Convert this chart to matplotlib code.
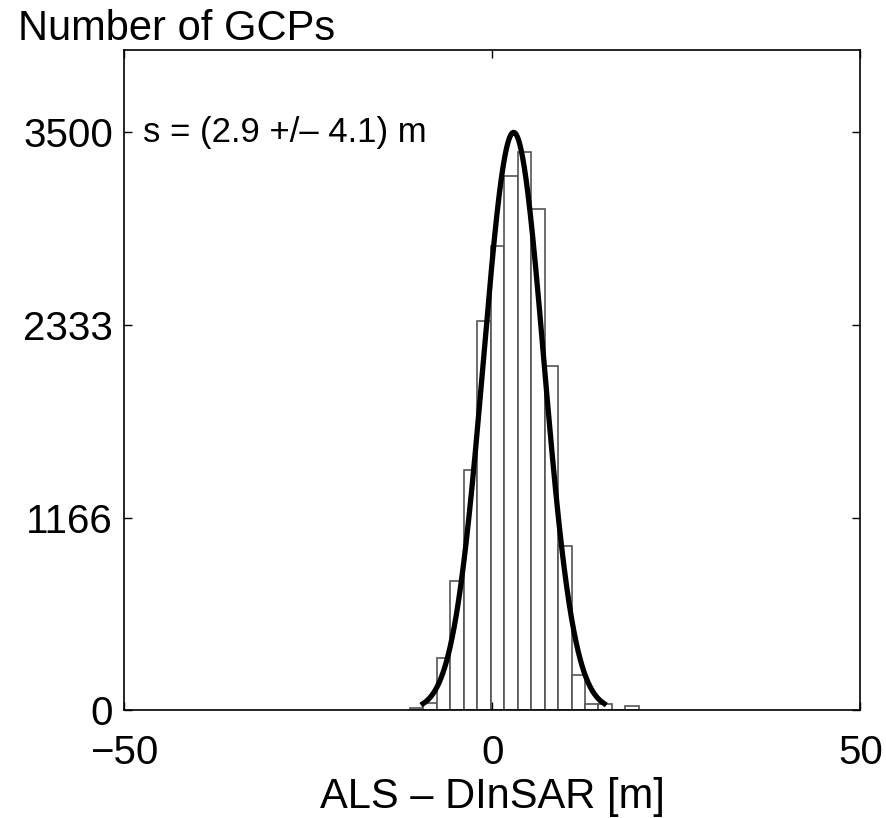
import numpy as np
import matplotlib
matplotlib.use('Agg')
import matplotlib.pyplot as plt

plt.rcParams['font.family'] = ['Liberation Sans', 'DejaVu Sans']

# histogram of ALS - DInSAR differences
bin_start = -11.2
bin_width = 1.83
counts = [10, 44, 317, 782, 1455, 2355, 2814, 3238, 3382, 3036, 2082, 995, 212, 36, 36, 3, 24]

# fitted gaussian
mu = 2.9
sigma = 4.1
peak = 3500

yticks = [0, 1166, 2333, 3500]
xticks = [-50, 0, 50]

edges = bin_start + bin_width * np.arange(len(counts) + 1)

fig = plt.figure(figsize=(8.87, 8.18), dpi=100)
ax = fig.add_axes([0.140, 0.132, 0.830, 0.807])

ax.bar(edges[:-1], counts, width=np.diff(edges), align='edge',
       facecolor='white', edgecolor='#555555', linewidth=1.2)

xg = np.linspace(mu - 3 * sigma, mu + 3 * sigma, 300)
ax.plot(xg, peak * np.exp(-0.5 * ((xg - mu) / sigma) ** 2), color='black', linewidth=3.8)

ax.set_xlim(-50, 50)
ax.set_ylim(0, 4000)
ax.set_xticks(xticks)
ax.set_yticks(yticks)
ax.set_xticklabels(['\u221250', '0', '50'])
ax.tick_params(direction='in', length=6, width=1, labelsize=29, top=True, right=True)
ax.tick_params(axis='y', pad=8)
ax.tick_params(axis='x', pad=17)
for s in ax.spines.values():
    s.set_linewidth(1.2)

ax.text(-47.5, 3500, 's = (2.9 +/\u2013 4.1) m', fontsize=25, va='center', ha='left')
ax.set_xlabel('ALS \u2013 DInSAR [m]', fontsize=30, labelpad=4)
fig.text(0.020, 0.965, 'Number of GCPs', fontsize=30, va='center', ha='left')

fig.savefig('out.png', dpi=100)
